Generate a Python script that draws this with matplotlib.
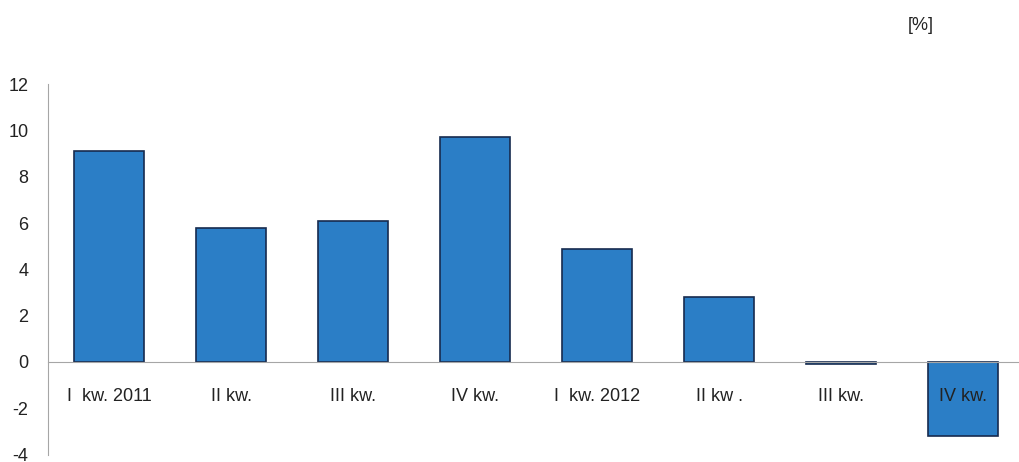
import matplotlib
matplotlib.use("Agg")
import matplotlib.pyplot as plt
from matplotlib import font_manager

categories = ["I  kw. 2011", "II kw.", "III kw.", "IV kw.", "I  kw. 2012", "II kw .", "III kw.", "IV kw."]
values = [9.1, 5.8, 6.1, 9.7, 4.9, 2.8, -0.1, -3.2]
yticks = [-4, -2, 0, 2, 4, 6, 8, 10, 12]

names = {f.name for f in font_manager.fontManager.ttflist}
fam = "Liberation Sans Narrow" if "Liberation Sans Narrow" in names else "Liberation Sans"
plt.rcParams["font.family"] = [fam, "DejaVu Sans"]

fig = plt.figure(figsize=(10.19, 4.62), dpi=100)
ax = fig.add_axes([0.0471, 0.016, 0.958, 0.802])

x = list(range(len(categories)))
ax.bar(x, values, width=0.575, color="#2B7EC6", edgecolor="#172B4F", linewidth=1.2, zorder=2)

ax.set_xlim(-0.5, len(categories) - 0.5)
ax.set_ylim(-4, 12)
ax.set_yticks(yticks)
ax.set_yticklabels([str(v) for v in yticks])
ax.set_xticks(x)
ax.set_xticklabels(categories)

for s in ["top", "right"]:
    ax.spines[s].set_visible(False)
ax.spines["bottom"].set_position(("data", 0))
ax.spines["bottom"].set_color("#A6A6A6")
ax.spines["left"].set_color("#A6A6A6")
ax.spines["bottom"].set_zorder(3)
ax.tick_params(axis="both", length=0, labelsize=13, colors="#222222")
ax.tick_params(axis="x", pad=19)
ax.tick_params(axis="y", pad=14)
ax.xaxis.set_zorder(4)

fig.text(0.904, 0.945, "[%]", fontsize=13, color="#222222", ha="center", va="center")

fig.savefig("out.png", dpi=100)
